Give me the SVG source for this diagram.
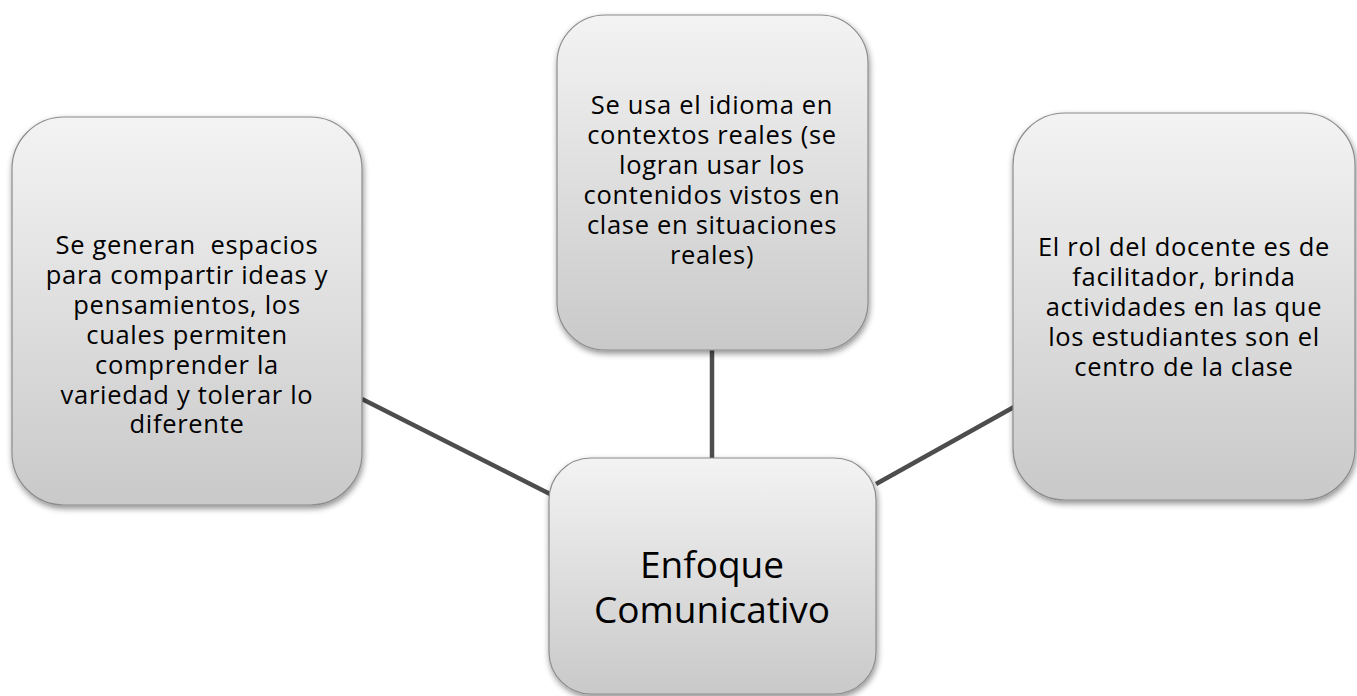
<svg xmlns="http://www.w3.org/2000/svg" width="1357" height="696" viewBox="0 0 1357 696">
<defs>
<linearGradient id="g" x1="0" y1="0" x2="0" y2="1">
<stop offset="0" stop-color="#f3f3f3"/>
<stop offset="1" stop-color="#c9c9c9"/>
</linearGradient>
<filter id="sh" x="-10%" y="-10%" width="125%" height="125%">
<feGaussianBlur in="SourceAlpha" stdDeviation="3"/>
<feOffset dx="1" dy="3" result="b"/>
<feComponentTransfer><feFuncA type="linear" slope="0.45"/></feComponentTransfer>
<feMerge><feMergeNode/><feMergeNode in="SourceGraphic"/></feMerge>
</filter>
</defs>
<style>
.box{fill:url(#g);stroke:#8c8c8c;stroke-width:1.2;filter:url(#sh)}
.t{font-family:"Open Sans",Lato,sans-serif;font-size:25.5px;letter-spacing:0.7px;fill:#000;text-anchor:middle;white-space:pre;font-variant-ligatures:none}
.c{font-family:"Open Sans",Lato,sans-serif;font-size:37px;fill:#000;text-anchor:middle}
.ln{stroke:#4d4d4d;stroke-width:4.5;fill:none}
</style>
<rect width="1357" height="696" fill="#fff"/>
<g id="connectors">
<line class="ln" x1="362" y1="399" x2="550" y2="494"/>
<line class="ln" x1="712" y1="350" x2="712" y2="460"/>
<line class="ln" x1="876" y1="484" x2="1014" y2="407"/>
</g>
<g id="node-left">
<rect class="box" x="12" y="117" width="350" height="388" rx="52"/>
<text class="t" x="187" y="254" xml:space="preserve">Se generan  espacios</text>
<text class="t" x="187" y="284">para compartir ideas y</text>
<text class="t" x="187" y="314">pensamientos, los</text>
<text class="t" x="187" y="344">cuales permiten</text>
<text class="t" x="187" y="374">comprender la</text>
<text class="t" x="187" y="404">variedad y tolerar lo</text>
<text class="t" x="187" y="433">diferente</text>
</g>
<g id="node-top">
<rect class="box" x="557" y="15" width="311" height="335" rx="48"/>
<text class="t" x="712" y="114">Se usa el idioma en</text>
<text class="t" x="712" y="144">contextos reales (se</text>
<text class="t" x="712" y="174">logran usar los</text>
<text class="t" x="712" y="204">contenidos vistos en</text>
<text class="t" x="712" y="234">clase en situaciones</text>
<text class="t" x="712" y="264">reales)</text>
</g>
<g id="node-right">
<rect class="box" x="1013" y="113" width="342" height="387" rx="52"/>
<text class="t" x="1184" y="256">El rol del docente es de</text>
<text class="t" x="1184" y="286">facilitador, brinda</text>
<text class="t" x="1184" y="316">actividades en las que</text>
<text class="t" x="1184" y="346">los estudiantes son el</text>
<text class="t" x="1184" y="376">centro de la clase</text>
</g>
<g id="node-center">
<rect class="box" x="549" y="458" width="327" height="236" rx="42"/>
<text class="c" x="712" y="578">Enfoque</text>
<text class="c" x="712" y="623">Comunicativo</text>
</g>
</svg>
